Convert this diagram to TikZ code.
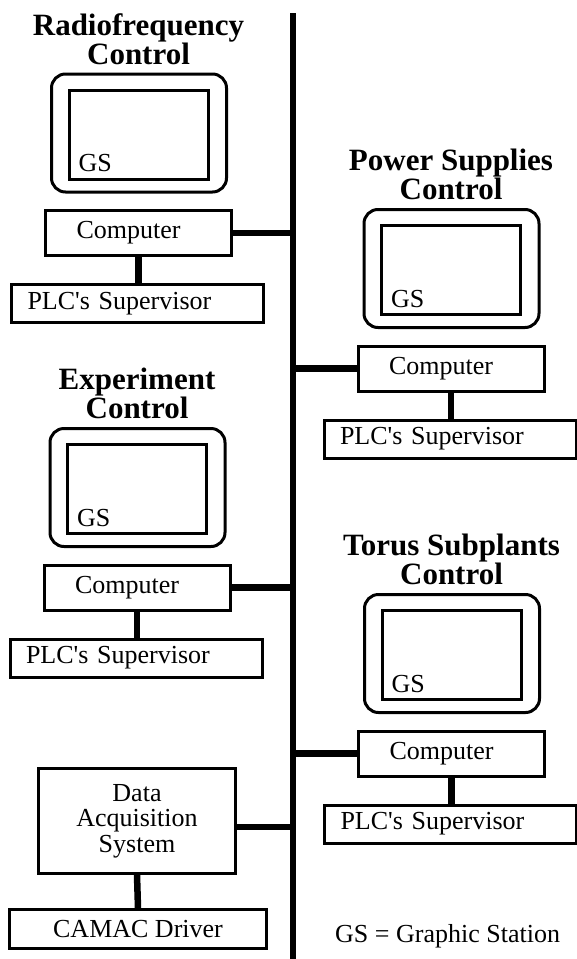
\documentclass[tikz,border=0pt]{standalone}
\usepackage{fontspec}
\setmainfont{Liberation Serif}[Ligatures=TeXOff]

\begin{document}
\begin{tikzpicture}[x=1pt, y=1pt,
  every node/.style={inner sep=0pt, font=\fontsize{26}{25.5}\selectfont},
  box/.style={draw, line width=3pt},
  pcbox/.style={box, minimum height=45, inner xsep=31, text width=124, align=left},
  plcbox/.style={box, minimum height=38, inner xsep=16, text width=220, align=left},
  screen/.style={box, rounded corners=14, minimum width=175, minimum height=118},
  inscreen/.style={box, minimum width=139, minimum height=89},
  title/.style={font=\bfseries\fontsize{31}{29}\selectfont, align=center},
  link/.style={line width=6.5pt},
  bus/.style={line width=6.5pt}]
  \useasboundingbox (0,0) rectangle (577,-959);

  \coordinate (bustop) at (293,-13);
  \coordinate (busbot) at (293,-959);
  \draw[bus] (bustop) -- (busbot);

  \foreach \n/\x/\y/\ttl in {rf/138.5/233/Radiofrequency, ex/137/587.5/Experiment,
                             ps/451/368.5/Power Supplies, ts/451.5/753.5/Torus Subplants} {
    \node[pcbox] (\n-pc) at (\x,-\y) {Computer};
    \path (\n-pc) ++(0.5,100) node[screen] (\n-scr) {};
    \path (\n-pc) ++(0,98.5) node[inscreen] (\n-in) {};
    \node[anchor=base west] (\n-gs) at ([shift={(11,9)}]\n-in.south west) {GS};
    \path (\n-pc) ++(-1,-70.5) node[plcbox] (\n-plc) {PLC's Supervisor};
    \path (\n-pc) ++(0,169) node[title, anchor=base] (\n-ttl) {\ttl\\Control};
    \draw[link] (\n-pc.south) -- (\n-pc.south |- \n-plc.north);
  }

  \draw[link] (rf-pc.east) -- (rf-pc.east -| bustop);
  \draw[link] (ex-pc.east) -- (ex-pc.east -| bustop);
  \draw[link] (ps-pc.west) -- (ps-pc.west -| bustop);
  \draw[link] (ts-pc.west) -- (ts-pc.west -| bustop);

  \node[box, minimum width=197, minimum height=105, align=center] (das) at (137,-821)
    {Data\\Acquisition\\System};
  \node[box, minimum width=257, minimum height=39] (camac) at (138,-929) {CAMAC Driver};
  \draw[link] (das.south) -- (camac.north);
  \draw[link] ([yshift=-6]das.east) -- ([yshift=-6]das.east -| bustop);

  \node[anchor=base west] (legend) at (335,-942) {GS = Graphic Station};
\end{tikzpicture}
\end{document}
